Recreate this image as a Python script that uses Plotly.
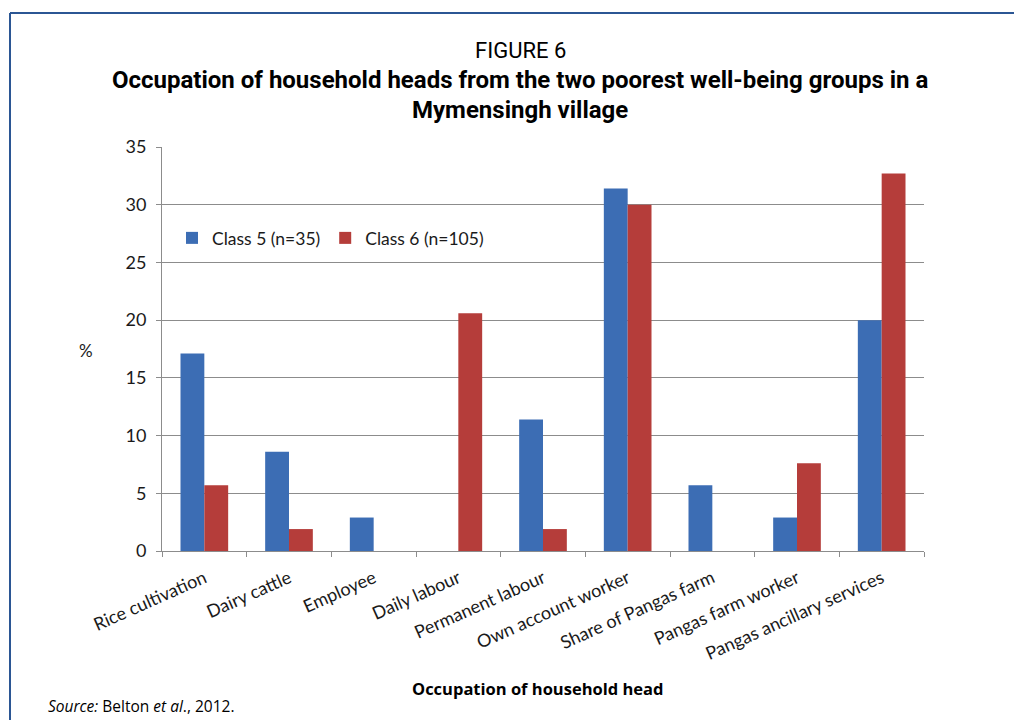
import plotly.graph_objects as go

categories = ["Rice cultivation", "Dairy cattle", "Employee", "Daily labour",
              "Permanent labour", "Own account worker", "Share of Pangas farm",
              "Pangas farm worker", "Pangas ancillary services"]
class5 = [17.1, 8.6, 2.9, 0, 11.4, 31.4, 5.7, 2.9, 20.0]
class6 = [5.7, 1.9, 0, 20.6, 1.9, 30.0, 0, 7.6, 32.7]
y_ticks = [0, 5, 10, 15, 20, 25, 30, 35]

_BLUE = "#3C6DB4"
_RED = "#B53D3A"
_FRAME = "#2B5694"
_GRID = "#8C8C8C"

# page body has an 8px margin; work in screen pixels and shift
OFF = 8
W, H = 1022 - OFF, 720 - OFF
L, R, T, B = 162 - OFF, W - (924 - OFF), 147 - OFF, H - (551 - OFF)


def px(x):
    return (x - OFF - L) / (W - L - R)


def py(y):
    return (H - B - (y - OFF)) / (H - T - B)


fig = go.Figure()
fig.add_trace(go.Bar(x=categories, y=class5, name="Class 5 (n=35)",
                     marker=dict(color=_BLUE, line=dict(width=0))))
fig.add_trace(go.Bar(x=categories, y=class6, name="Class 6 (n=105)",
                     marker=dict(color=_RED, line=dict(width=0))))

tick_font = dict(family="Lato, Calibri, Carlito, sans-serif", size=18, color="#1a1a1a")
fig.update_xaxes(type="category", tickangle=-24, tickfont=tick_font,
                 showline=True, linecolor=_GRID, linewidth=1,
                 ticks="outside", tickson="boundaries", ticklen=5, tickcolor=_GRID,
                 ticklabelstandoff=9, showgrid=False)
fig.update_yaxes(range=[0, 35], tickvals=y_ticks, tickfont=tick_font,
                 showline=True, linecolor=_GRID, linewidth=1,
                 ticks="outside", ticklen=5, tickcolor=_GRID, ticklabelstandoff=6,
                 showgrid=True, gridcolor=_GRID, gridwidth=1, zeroline=False)

title_font = "Roboto, sans-serif"
notes = [
    dict(x=px(520), y=py(50), text="FIGURE 6",
         font=dict(family=title_font, size=22, color="black")),
    dict(x=px(520), y=py(80), text="<b>Occupation of household heads from the two poorest well-being groups in a</b>",
         font=dict(family=title_font, size=24, color="black")),
    dict(x=px(520), y=py(110), text="<b>Mymensingh village</b>",
         font=dict(family=title_font, size=24, color="black")),
    dict(x=px(86), y=py(350), text="%",
         font=dict(family="Lato, sans-serif", size=17, color="#1a1a1a")),
    dict(x=px(537), y=py(688), text="<b>Occupation of household head</b>",
         font=dict(family="Open Sans, sans-serif", size=16.5, color="black")),
    dict(x=px(47), y=py(706), text="<i>Source:</i> Belton <i>et al</i>., 2012.",
         xanchor="left", font=dict(family="Open Sans, sans-serif", size=15.5, color="black")),
]
for n in notes:
    n.setdefault("xanchor", "center")
    fig.add_annotation(xref="paper", yref="paper", yanchor="middle",
                       showarrow=False, borderpad=0, **n)

fig.add_shape(type="line", xref="paper", yref="paper",
              x0=px(10), x1=px(1030), y0=py(13), y1=py(13),
              line=dict(color=_FRAME, width=2))
fig.add_shape(type="line", xref="paper", yref="paper",
              x0=px(10), x1=px(10), y0=py(13), y1=py(730),
              line=dict(color=_FRAME, width=2))

fig.update_layout(
    width=W, height=H, barmode="group", bargap=0.437, bargroupgap=0,
    plot_bgcolor="white", paper_bgcolor="white",
    margin=dict(l=L, r=R, t=T, b=B, autoexpand=False),
    showlegend=True,
    legend=dict(orientation="h", x=px(172), y=py(238), xanchor="left", yanchor="middle",
                font=dict(family="Lato, Calibri, sans-serif", size=17.5, color="#1a1a1a"),
                bgcolor="rgba(0,0,0,0)", itemwidth=30, tracegroupgap=0),
)

fig.write_html("out.html")
